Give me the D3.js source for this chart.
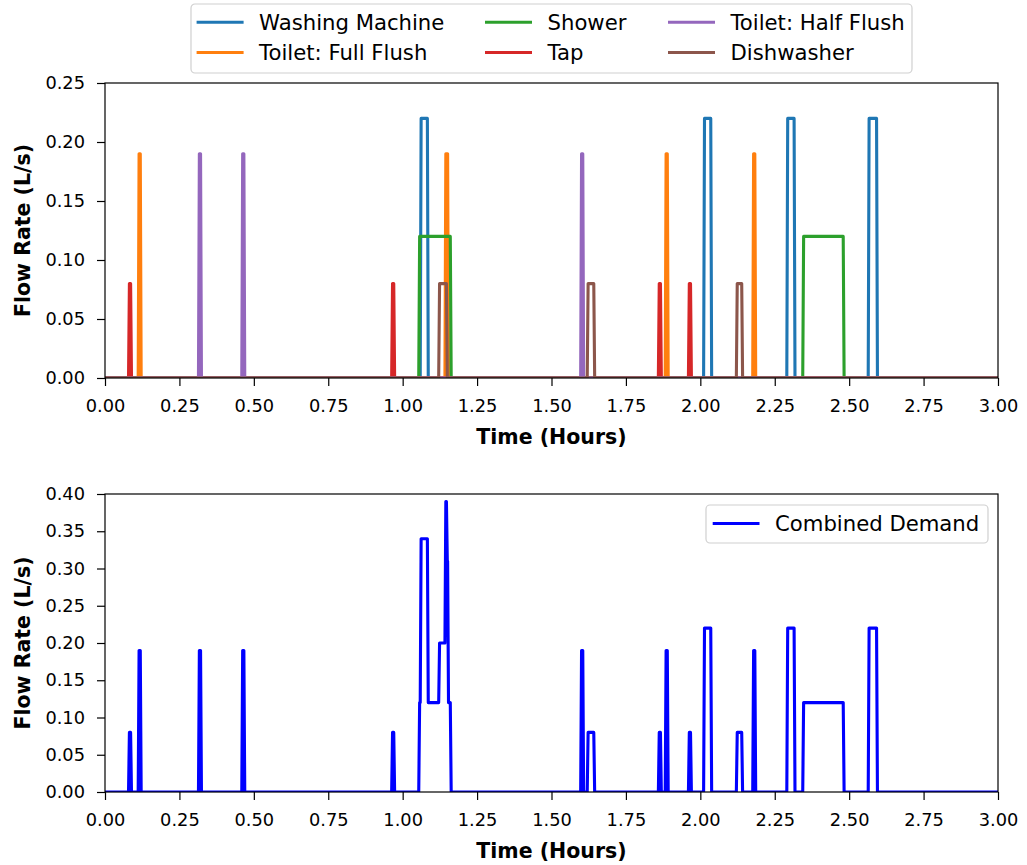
<!DOCTYPE html>
<html>
<head>
<meta charset="utf-8">
<script src="https://cdn.jsdelivr.net/npm/d3@7"></script>
<style>
  html, body { margin: 0; padding: 0; background: #ffffff; }
  svg { display: block; font-family: "DejaVu Sans", sans-serif; }
</style>
</head>
<body>
<svg id="chart" width="1027" height="865"></svg>
<script>
// ---------------- DATA (hours, L/s) ----------------
const timeDomain = [0, 3];
const rampHours = 0.003;   // rise / fall time of each sampled pulse

const seriesNames  = ["Washing Machine", "Toilet: Full Flush", "Shower", "Tap", "Toilet: Half Flush", "Dishwasher"];
const seriesColors = ["#1f77b4", "#ff7f0e", "#2ca02c", "#d62728", "#9467bd", "#8c564b"];

const washingRate   = 0.22;
const washingStarts = [1.0620, 2.0140, 2.2935, 2.5670];
const washingEnds   = [1.0830, 2.0350, 2.3150, 2.5920];

const fullFlushRate   = 0.19;
const fullFlushStarts = [0.1145, 1.1450, 1.8850, 2.1790];
const fullFlushEnds   = [0.1185, 1.1510, 1.8890, 2.1830];

const showerRate   = 0.12;
const showerStarts = [1.0570, 2.3470];
const showerEnds   = [1.1600, 2.4800];

const tapRate   = 0.08;
const tapStarts = [0.0820, 0.9660, 1.8620, 1.9630];
const tapEnds   = [0.0860, 0.9700, 1.8660, 1.9670];

const halfFlushRate   = 0.19;
const halfFlushStarts = [0.3170, 0.4625, 1.6010];
const halfFlushEnds   = [0.3210, 0.4665, 1.6050];

const dishwasherRate   = 0.08;
const dishwasherStarts = [1.1240, 1.6230, 2.1240];
const dishwasherEnds   = [1.1470, 1.6420, 2.1390];

const xTicks      = [0, 0.25, 0.5, 0.75, 1, 1.25, 1.5, 1.75, 2, 2.25, 2.5, 2.75, 3];
const yTicksTop   = [0, 0.05, 0.10, 0.15, 0.20, 0.25];
const yTicksBot   = [0, 0.05, 0.10, 0.15, 0.20, 0.25, 0.30, 0.35, 0.40];
const yDomainTop  = [0, 0.25];
const yDomainBot  = [0, 0.40];
const combinedName  = "Combined Demand";
const combinedColor = "#0000ff";
const xLabel = "Time (Hours)";
const yLabel = "Flow Rate (L/s)";

// ---------------- BUILD SERIES ----------------
function pulseSeries(starts, ends, rate) {
  const pts = [[timeDomain[0], 0]];
  starts.forEach((s, i) => {
    pts.push([s - rampHours, 0], [s, rate], [ends[i], rate], [ends[i] + rampHours, 0]);
  });
  pts.push([timeDomain[1], 0]);
  return pts;
}
const allSeries = [
  pulseSeries(washingStarts, washingEnds, washingRate),
  pulseSeries(fullFlushStarts, fullFlushEnds, fullFlushRate),
  pulseSeries(showerStarts, showerEnds, showerRate),
  pulseSeries(tapStarts, tapEnds, tapRate),
  pulseSeries(halfFlushStarts, halfFlushEnds, halfFlushRate),
  pulseSeries(dishwasherStarts, dishwasherEnds, dishwasherRate)
];
const bis = d3.bisector(d => d[0]).left;
function valueAt(pts, t) {
  let i = bis(pts, t);
  if (i <= 0) return pts[0][1];
  if (i >= pts.length) return pts[pts.length - 1][1];
  const a = pts[i - 1], b = pts[i];
  if (b[0] === a[0]) return b[1];
  return a[1] + (b[1] - a[1]) * (t - a[0]) / (b[0] - a[0]);
}
const times = Array.from(new Set(allSeries.flatMap(p => p.map(d => d[0])))).sort((a, b) => a - b);
const combined = times.map(t => [t, d3.sum(allSeries, p => valueAt(p, t))]);

// ---------------- DRAW ----------------
const svg = d3.select("#chart");
const left = 105, right = 998;
const fontTick = 17.8, fontLabel = 20.5, fontLegend = 21.2;
const lineW = 3.1;

function drawPanel(top, bottom, yDomain, yTicks, seriesList, id) {
  const x = d3.scaleLinear().domain(timeDomain).range([left, right]);
  const y = d3.scaleLinear().domain(yDomain).range([bottom, top]);
  const g = svg.append("g");
  g.append("clipPath").attr("id", id).append("rect")
    .attr("x", left).attr("y", top).attr("width", right - left).attr("height", bottom - top);
  const line = d3.line().x(d => x(d[0])).y(d => y(d[1]));
  const lg = g.append("g").attr("clip-path", `url(#${id})`);
  seriesList.forEach(s => {
    lg.append("path").datum(s.data).attr("d", line)
      .attr("fill", "none").attr("stroke", s.color).attr("stroke-width", lineW)
      .attr("stroke-linejoin", "round").attr("stroke-linecap", "butt");
  });
  // axes
  const xa = g.append("g").attr("transform", `translate(0,${bottom})`)
    .call(d3.axisBottom(x).tickValues(xTicks).tickFormat(d3.format(".2f")).tickSizeInner(8).tickSizeOuter(0).tickPadding(13));
  const ya = g.append("g").attr("transform", `translate(${left},0)`)
    .call(d3.axisLeft(y).tickValues(yTicks).tickFormat(d3.format(".2f")).tickSizeInner(8).tickSizeOuter(0).tickPadding(12));
  [xa, ya].forEach(a => {
    a.select(".domain").remove();
    a.selectAll(".tick line").attr("stroke", "#000").attr("stroke-width", 1.2);
    a.selectAll(".tick text").attr("fill", "#000").style("font-size", fontTick + "px")
      .style("font-family", "DejaVu Sans");
  });
  // frame
  g.append("rect").attr("x", left).attr("y", top).attr("width", right - left).attr("height", bottom - top)
    .attr("fill", "none").attr("stroke", "#000").attr("stroke-width", 1.2);
  // labels
  g.append("text").attr("x", (left + right) / 2).attr("y", bottom + 66)
    .attr("text-anchor", "middle").style("font-size", fontLabel + "px").style("font-weight", "bold")
    .text(xLabel);
  g.append("text").attr("transform", `translate(23,${(top + bottom) / 2}) rotate(-90)`)
    .attr("dy", "0.35em").attr("text-anchor", "middle").style("font-size", fontLabel + "px").style("font-weight", "bold")
    .text(yLabel);
  return g;
}

const topSeries = allSeries.map((d, i) => ({ data: d, color: seriesColors[i] }));
drawPanel(83, 378, yDomainTop, yTicksTop, topSeries, "clipTop");
drawPanel(494, 792, yDomainBot, yTicksBot, [{ data: combined, color: combinedColor }], "clipBot");

// legends
function legendBox(x0, y0, w, h) {
  svg.append("rect").attr("x", x0).attr("y", y0).attr("width", w).attr("height", h)
    .attr("rx", 4).attr("fill", "#fff").attr("fill-opacity", 0.8)
    .attr("stroke", "#d0d0d0").attr("stroke-width", 1.2);
}
legendBox(191, 4, 721, 69);
const colHandleX = [196.6, 485, 668];
const rowY = [22.3, 52.5];
seriesNames.forEach((name, i) => {
  const col = Math.floor(i / 2), row = i % 2;
  const hx = colHandleX[col], yy = rowY[row];
  svg.append("line").attr("x1", hx).attr("x2", hx + 47).attr("y1", yy).attr("y2", yy)
    .attr("stroke", seriesColors[i]).attr("stroke-width", lineW);
  svg.append("text").attr("x", hx + 62.5).attr("y", yy).attr("dy", "0.36em")
    .style("font-size", fontLegend + "px").attr("fill", "#000").text(name);
});
legendBox(706, 505, 282, 38);
svg.append("line").attr("x1", 712.7).attr("x2", 759.5).attr("y1", 523.5).attr("y2", 523.5)
  .attr("stroke", combinedColor).attr("stroke-width", lineW);
svg.append("text").attr("x", 775).attr("y", 523.5).attr("dy", "0.36em")
  .style("font-size", fontLegend + "px").attr("fill", "#000").text(combinedName);
</script>
</body>
</html>
